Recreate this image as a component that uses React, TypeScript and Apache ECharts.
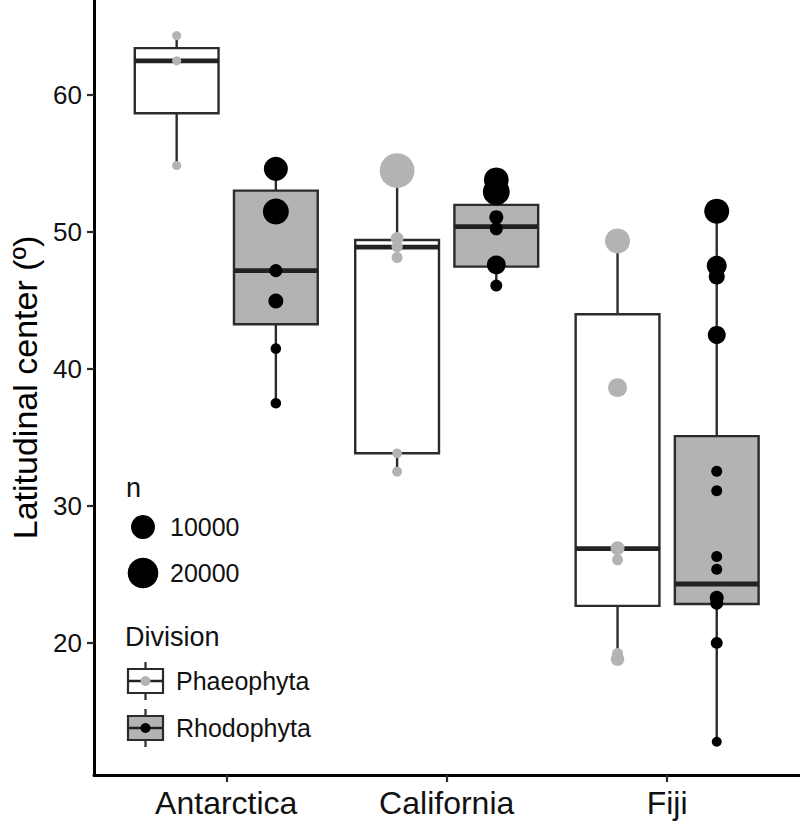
import React, { useEffect, useRef } from "react";
import * as echarts from "echarts";

// ---------- data ----------
const categories = ["Antarctica", "California", "Fiji"];
const divisions = ["Phaeophyta", "Rhodophyta"];
const yTicks = [20, 30, 40, 50, 60];
const xTicks = [1, 2, 3];

// box statistics per category: [lower whisker, Q1, median, Q3, upper whisker]
const phaeoBoxes = [
  [54.82, 58.64, 62.46, 63.39, 64.3],
  [32.48, 33.82, 48.86, 49.39, 54.45],
  [18.81, 22.68, 26.86, 43.97, 49.32],
];
const rhodoBoxes = [
  [37.47, 43.24, 47.15, 52.99, 54.58],
  [46.06, 47.44, 50.36, 51.95, 53.78],
  [12.77, 22.82, 24.28, 35.07, 51.49],
];

// points: [category index, latitudinal center, n]
const phaeoPoints = [
  [0, 64.3, 50], [0, 62.46, 50], [0, 54.82, 50],
  [1, 54.45, 27800], [1, 49.5, 900], [1, 48.9, 400], [1, 48.1, 350], [1, 33.82, 100], [1, 32.48, 150],
  [2, 49.32, 11300], [2, 38.61, 4700], [2, 26.89, 1400], [2, 26.04, 350], [2, 19.2, 350], [2, 18.8, 1200],
];
const rhodoPoints = [
  [0, 54.58, 10000], [0, 51.46, 12600], [0, 47.15, 1000], [0, 44.94, 1900], [0, 41.46, 250], [0, 37.47, 250],
  [1, 53.78, 11000], [1, 52.9, 14000], [1, 51.05, 1400], [1, 50.2, 1000], [1, 47.57, 4700], [1, 46.06, 600],
  [2, 51.49, 11300], [2, 47.5, 5600], [2, 46.72, 2500], [2, 42.46, 3900], [2, 32.5, 350], [2, 31.09, 350],
  [2, 26.28, 350], [2, 25.36, 350], [2, 23.28, 1400], [2, 22.88, 1000], [2, 19.98, 600], [2, 12.77, 150],
];
const sizeBreaks = [10000, 20000];

// ---------- styling / layout ----------
const DODGE = 0.225;
const BOX_W = 0.38;
const GREY = "#b3b3b3";
const LINE = "#2b2b2b";
const FONT = "Liberation Sans, Arial, sans-serif";
const sizeOf = (n: number) => 8 + 0.16 * Math.sqrt(n);

const boxData = (boxes: number[][], off: number) =>
  boxes.map((b, i) => [i + 1 + off, ...b]);
const pointData = (pts: number[][], off: number) =>
  pts.map((p) => [p[0] + 1 + off, p[1], p[2]]);

const renderBox = (fill: string) => (params: any, api: any) => {
  const x = api.value(0);
  const pMin = api.coord([x, api.value(1)]);
  const pQ1 = api.coord([x, api.value(2)]);
  const pMed = api.coord([x, api.value(3)]);
  const pQ3 = api.coord([x, api.value(4)]);
  const pMax = api.coord([x, api.value(5)]);
  const half = api.size([BOX_W, 0])[0] / 2;
  const cx = pMed[0];
  return {
    type: "group",
    children: [
      { type: "line", shape: { x1: cx, y1: pMax[1], x2: cx, y2: pQ3[1] }, style: { stroke: LINE, lineWidth: 2.4 } },
      { type: "line", shape: { x1: cx, y1: pQ1[1], x2: cx, y2: pMin[1] }, style: { stroke: LINE, lineWidth: 2.4 } },
      {
        type: "rect",
        shape: { x: cx - half, y: pQ3[1], width: half * 2, height: pQ1[1] - pQ3[1] },
        style: { fill, stroke: LINE, lineWidth: 2.4 },
      },
      { type: "line", shape: { x1: cx - half, y1: pMed[1], x2: cx + half, y2: pMed[1] }, style: { stroke: "#222", lineWidth: 4.8 } },
    ],
  };
};

const legendGraphics = () => {
  const g: any[] = [];
  const txt = (text: string, x: number, y: number, size: number) => ({
    type: "text",
    x,
    y,
    style: { text, fill: "#111", font: `${size}px ${FONT}`, textVerticalAlign: "middle", textAlign: "left" },
  });
  g.push(txt("n", 126, 488, 27));
  const sizeY = [527, 573];
  sizeBreaks.forEach((n, i) => {
    g.push({ type: "circle", shape: { cx: 143, cy: sizeY[i], r: sizeOf(n) / 2 }, style: { fill: "#000" } });
    g.push(txt(String(n), 170, sizeY[i], 25));
  });
  g.push(txt("Division", 125, 637, 27));
  const keyY = [681, 728];
  const fills = ["#ffffff", GREY];
  const dots = [GREY, "#000"];
  divisions.forEach((d, i) => {
    const cy = keyY[i];
    g.push({ type: "line", shape: { x1: 145.5, y1: cy - 19, x2: 145.5, y2: cy + 19 }, style: { stroke: LINE, lineWidth: 2.2 } });
    g.push({ type: "rect", shape: { x: 128, y: cy - 12, width: 35, height: 24 }, style: { fill: fills[i], stroke: LINE, lineWidth: 2.2 } });
    g.push({ type: "line", shape: { x1: 128, y1: cy, x2: 163, y2: cy }, style: { stroke: "#222", lineWidth: 2.5 } });
    g.push({ type: "circle", shape: { cx: 145.5, cy, r: 5 }, style: { fill: dots[i] } });
    g.push(txt(d, 176, cy, 25));
  });
  return g;
};

export default function App() {
  const ref = useRef<HTMLDivElement>(null);
  useEffect(() => {
    if (!ref.current) return;
    const chart = echarts.init(ref.current, null, { renderer: "svg" });
    chart.setOption({
      animation: false,
      backgroundColor: "#ffffff",
      grid: { left: 89, top: 0, width: 710.4, height: 775, containLabel: false },
      xAxis: {
        type: "value",
        min: 0.4,
        max: 3.6,
        splitLine: { show: false },
        axisLine: { show: true, onZero: false, lineStyle: { color: "#000", width: 3 } },
        axisTick: { show: true, customValues: xTicks, length: 7, lineStyle: { color: LINE, width: 2.2 } },
        axisLabel: {
          customValues: xTicks,
          formatter: (v: number) => categories[Math.round(v) - 1] ?? "",
          fontSize: 32,
          color: "#111",
          fontFamily: FONT,
          margin: 12,
        },
      },
      yAxis: {
        type: "value",
        min: 10.34,
        max: 66.9,
        splitLine: { show: false },
        axisLine: { show: true, onZero: false, lineStyle: { color: "#000", width: 3 } },
        axisTick: { show: true, customValues: yTicks, length: 7, lineStyle: { color: LINE, width: 2.2 } },
        axisLabel: { customValues: yTicks, fontSize: 26, color: "#111", fontFamily: FONT, margin: 12 },
        name: "Latitudinal center (º)",
        nameLocation: "middle",
        nameGap: 52,
        nameTextStyle: { fontSize: 34, color: "#000", fontFamily: FONT },
      },
      series: [
        {
          type: "custom",
          name: "Phaeophyta box",
          renderItem: renderBox("#ffffff"),
          data: boxData(phaeoBoxes, -DODGE),
          encode: { x: 0, y: [1, 2, 3, 4, 5] },
          z: 1,
        },
        {
          type: "custom",
          name: "Rhodophyta box",
          renderItem: renderBox(GREY),
          data: boxData(rhodoBoxes, DODGE),
          encode: { x: 0, y: [1, 2, 3, 4, 5] },
          z: 1,
        },
        {
          type: "scatter",
          name: "Phaeophyta",
          data: pointData(phaeoPoints, -DODGE),
          symbolSize: (v: number[]) => sizeOf(v[2]),
          itemStyle: { color: GREY, opacity: 1 },
          z: 3,
        },
        {
          type: "scatter",
          name: "Rhodophyta",
          data: pointData(rhodoPoints, DODGE),
          symbolSize: (v: number[]) => sizeOf(v[2]),
          itemStyle: { color: "#000", opacity: 1 },
          z: 3,
        },
      ],
      graphic: legendGraphics(),
    });
    return () => chart.dispose();
  }, []);
  return (
    <div
      ref={ref}
      style={{ position: "fixed", left: 0, top: 0, width: 800, height: 825, background: "#fff" }}
    />
  );
}
